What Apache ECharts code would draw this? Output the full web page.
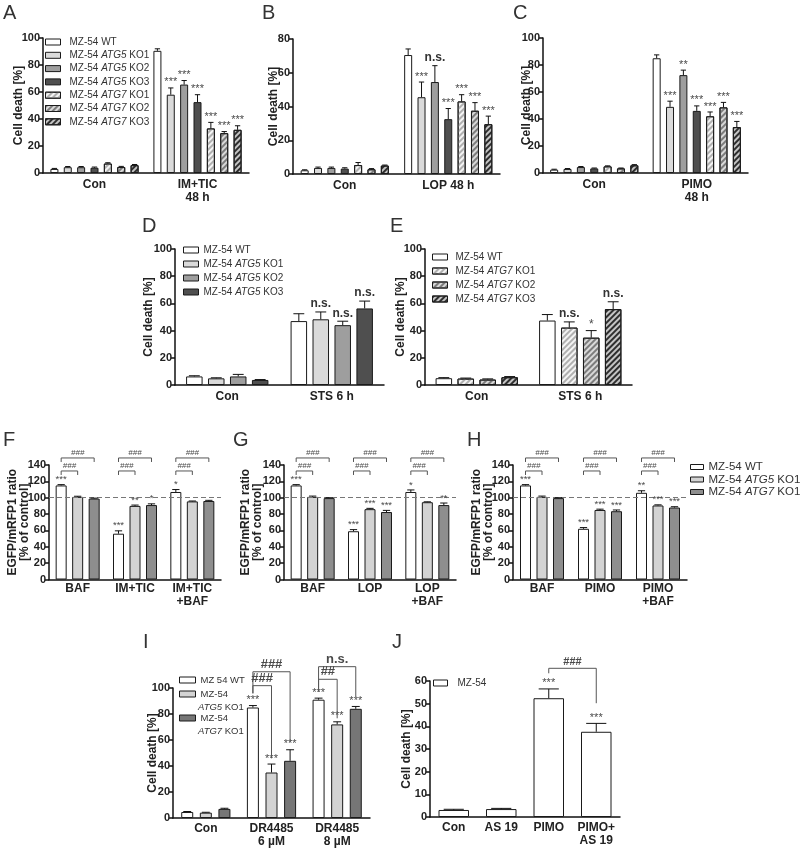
<!DOCTYPE html>
<html><head><meta charset="utf-8">
<script src="https://cdn.jsdelivr.net/npm/echarts@6/dist/echarts.min.js"></script>
<style>html,body{margin:0;padding:0;background:#fff}#c{width:800px;height:849px}</style>
</head><body><div id="c"></div>
<script>
// ================= DATA =================
const catsA = ['Con', 'IM+TIC\n48 h'];
const catsB = ['Con', 'LOP 48 h'];
const catsC = ['Con', 'PIMO\n48 h'];
const catsD = ['Con', 'STS 6 h'];
const catsE = ['Con', 'STS 6 h'];
const catsF = ['BAF', 'IM+TIC', 'IM+TIC\n+BAF'];
const catsG = ['BAF', 'LOP', 'LOP\n+BAF'];
const catsH = ['BAF', 'PIMO', 'PIMO\n+BAF'];
const catsI = ['Con', 'DR4485\n6 µM', 'DR4485\n8 µM'];
const catsJ = ['Con', 'AS 19', 'PIMO', 'PIMO+\nAS 19'];

const namesABC = ['MZ-54 WT','MZ-54 ATG5 KO1','MZ-54 ATG5 KO2','MZ-54 ATG5 KO3','MZ-54 ATG7 KO1','MZ-54 ATG7 KO2','MZ-54 ATG7 KO3'];
const namesD = ['MZ-54 WT','MZ-54 ATG5 KO1','MZ-54 ATG5 KO2','MZ-54 ATG5 KO3'];
const namesE = ['MZ-54 WT','MZ-54 ATG7 KO1','MZ-54 ATG7 KO2','MZ-54 ATG7 KO3'];
const namesFGH = ['MZ-54 WT','MZ-54 ATG5 KO1','MZ-54 ATG7 KO1'];
const namesI = ['MZ 54 WT','MZ-54 ATG5 KO1','MZ-54 ATG7 KO1'];
const namesJ = ['MZ-54'];

// values per series (one entry per category)
const valsA = [[3.0,90.5],[4.3,58],[4.3,65.5],[3.9,52.5],[7.0,33],[4.4,29.5],[5.8,32]];
const errsA = [[0.4,1.5],[0.5,5],[0.5,3],[0.5,5.5],[0.6,4.5],[0.5,1.2],[0.5,3]];
const sigA  = [['',''],['','***'],['','***'],['','***'],['','***'],['','***'],['','***']];

const valsB = [[2.2,70.5],[3.6,45.5],[3.6,54.5],[3.2,32.5],[5.3,43],[2.8,37.5],[5.0,29.5]];
const errsB = [[0.3,3.6],[0.5,9],[0.5,9.7],[0.5,6.3],[1.5,4],[0.4,4.8],[0.3,4.8]];
const sigB  = [['',''],['','***'],['','n.s.'],['','***'],['','***'],['','***'],['','***']];

const valsC = [[2.5,85],[3.0,49],[4.4,72.5],[3.4,46],[4.9,42],[3.4,48.6],[5.7,34]];
const errsC = [[0.3,2.5],[0.3,4.2],[0.4,3.7],[0.3,3.7],[0.4,3.2],[0.3,3.7],[0.5,4.2]];
const sigC  = [['',''],['','***'],['','**'],['','***'],['','***'],['','***'],['','***']];

const valsD = [[6.3,47],[4.9,48.3],[6.3,44],[3.7,56.3]];
const errsD = [[0.5,5.4],[0.4,5.4],[1.5,2.9],[0.3,5.4]];
const sigD  = [['',''],['','n.s.'],['','n.s.'],['','n.s.']];

const valsE = [[5.0,47.4],[4.7,42.2],[4.0,34.8],[5.7,55.8]];
const errsE = [[0.4,4.4],[0.4,4.2],[0.5,5.2],[0.5,5.4]];
const sigE  = [['',''],['','n.s.'],['','*'],['','n.s.']];

const valsF = [[115,56,107],[101,90,95.5],[99,91,96]];
const errsF = [[1,3.5,3],[0.8,1,0.5],[0.5,1.5,0.8]];
const sigF  = [['***','***','*'],['','**',''],['','*','']];

const valsG = [[115,59,107],[101,86,94.5],[99.5,82.5,91]];
const errsG = [[1,2,2.5],[1,1,0.5],[0.5,2,2.5]];
const sigG  = [['***','***','*'],['','***',''],['','***','**']];

const valsH = [[115,62,106],[101,85,90.5],[99.5,83.5,88]];
const errsH = [[1,1.5,2.5],[1,1,0.8],[0.5,1.5,1]];
const sigH  = [['***','***','**'],['','***','***'],['','***','***']];

const valsI = [[4.6,85,91],[4.1,35,72],[7.0,44,84]];
const errsI = [[0.4,1.5,1.2],[0.3,6.5,2],[0.5,8.5,1.8]];
const sigI  = [['','***','***'],['','***','***'],['','***','***']];

const valsJ = [[3.1,3.5,52.4,37.6]];
const errsJ = [[0.3,0.3,4.1,3.7]];
const sigJ  = [['','','***','***']];

// brackets: [catFrom, seriesFrom, catTo, seriesTo, lineValue, legFromBottom, legToBottom, label]
const bracketsF = [[0,0,0,1,132.7,127.8,127.8,'###'],[0,0,0,2,148.6,143.7,143.7,'###'],
                   [1,0,1,1,132.7,127.8,127.8,'###'],[1,0,1,2,148.6,143.7,143.7,'###'],
                   [2,0,2,1,132.7,127.8,127.8,'###'],[2,0,2,2,148.6,143.7,143.7,'###']];
const bracketsG = bracketsF;
const bracketsH = bracketsF;
const bracketsI = [[1,0,1,2,112.5,95.9,58.7,'###'],[1,0,1,1,101.8,95.9,45.9,'###'],
                   [2,0,2,2,116.4,97.2,93.3,'n.s.'],[2,0,2,1,106.7,97.2,76.7,'##']];
const bracketsJ = [[2,0,3,0,65.6,63.4,50.2,'###']];

const ticks100 = [0,20,40,60,80,100];
const ticks80 = [0,20,40,60,80];
const ticks140 = [0,20,40,60,80,100,120,140];
const ticks60 = [0,10,20,30,40,50,60];

// ================= STYLE =================
const FF = "'Liberation Sans', Arial, sans-serif";
const TXT = '#222';
const S = {
  wt:  {color:'#ffffff'},
  g5a: {color:'#dadada'},
  g5b: {color:'#9e9e9e'},
  g5c: {color:'#4f4f4f'},
  h7a: {color:'#f4f4f4', decal:'#b0b0b0'},
  h7b: {color:'#d8d8d8', decal:'#7c7c7c'},
  h7c: {color:'#c4c4c4', decal:'#2e2e2e'},
  f5:  {color:'#d3d3d3'},
  f7:  {color:'#8e8e8e'},
  i7:  {color:'#767676'}
};
function itemStyleOf(k){
  const s = S[k];
  const st = {color:s.color, borderColor:'#1a1a1a', borderWidth:1};
  if (s.decal) st.decal = {symbol:'rect', symbolSize:1, color:s.decal, dashArrayX:[1,0], dashArrayY:[1.4,1.8], rotation:-Math.PI/4};
  return st;
}

const P = [
 {id:'A', cats:catsA, names:namesABC, vals:valsA, errs:errsA, sig:sigA, sty:['wt','g5a','g5b','g5c','h7a','h7b','h7c'],
  grid:{left:43, top:38, width:206, height:135}, ticks:ticks100, yName:'Cell death [%]', nameGap:18, bw:8, gap:0.67, sigFs:11, lblMargin:5,
  legend:[{left:45, top:36, gap:1.3, pad:4, fs:10, lh:12, iw:15, ih:6}]},
 {id:'B', cats:catsB, names:namesABC, vals:valsB, errs:errsB, sig:sigB, sty:['wt','g5a','g5b','g5c','h7a','h7b','h7c'],
  grid:{left:293, top:39, width:207, height:135}, ticks:ticks80, yName:'Cell death [%]', nameGap:13, bw:8, gap:0.67, sigFs:11, lblMargin:5},
 {id:'C', cats:catsC, names:namesABC, vals:valsC, errs:errsC, sig:sigC, sty:['wt','g5a','g5b','g5c','h7a','h7b','h7c'],
  grid:{left:543, top:38, width:205, height:135}, ticks:ticks100, yName:'Cell death [%]', nameGap:10, bw:8, gap:0.67, sigFs:11, lblMargin:5},
 {id:'D', cats:catsD, names:namesD, vals:valsD, errs:errsD, sig:sigD, sty:['wt','g5a','g5b','g5c'],
  grid:{left:175, top:249, width:209, height:136}, ticks:ticks100, yName:'Cell death [%]', nameGap:20, bw:16.5, gap:0.33, sigFs:12, lblMargin:5,
  legend:[{left:183, top:244, gap:2, pad:0, fs:10, lh:12, iw:15, ih:6}]},
 {id:'E', cats:catsE, names:namesE, vals:valsE, errs:errsE, sig:sigE, sty:['wt','h7a','h7b','h7c'],
  grid:{left:425, top:249, width:207, height:136}, ticks:ticks100, yName:'Cell death [%]', nameGap:18, bw:16.5, gap:0.33, sigFs:12, lblMargin:5,
  legend:[{left:432, top:251, gap:2, pad:3, fs:10, lh:12, iw:15, ih:6}]},
 {id:'F', cats:catsF, names:namesFGH, vals:valsF, errs:errsF, sig:sigF, sty:['wt','f5','f7'], brackets:bracketsF, brFs:8, brItalic:true,
  grid:{left:49, top:465, width:172, height:114.5}, ticks:ticks140, yName:'EGFP/mRFP1 ratio\n[% of control]', nameGap:18, bw:11, gap:0.5, sigFs:9.5, dashed:true, lblMargin:3},
 {id:'G', cats:catsG, names:namesFGH, vals:valsG, errs:errsG, sig:sigG, sty:['wt','f5','f7'], brackets:bracketsG, brFs:8, brItalic:true,
  grid:{left:284, top:465, width:172, height:114.5}, ticks:ticks140, yName:'EGFP/mRFP1 ratio\n[% of control]', nameGap:20, bw:11, gap:0.5, sigFs:9.5, dashed:true, lblMargin:3},
 {id:'H', cats:catsH, names:namesFGH, vals:valsH, errs:errsH, sig:sigH, sty:['wt','f5','f7'], brackets:bracketsH, brFs:8, brItalic:true,
  grid:{left:513, top:465, width:174, height:114.5}, ticks:ticks140, yName:'EGFP/mRFP1 ratio\n[% of control]', nameGap:18, bw:11, gap:0.5, sigFs:9.5, dashed:true, lblMargin:3,
  legend:[{left:690, top:461, gap:0.5, pad:0, fs:11.5, lh:12, iw:13, ih:5}]},
 {id:'I', cats:catsI, names:namesI, vals:valsI, errs:errsI, sig:sigI, sty:['wt','f5','i7'], brackets:bracketsI, brFs:13, brBold:true,
  grid:{left:173, top:688, width:197, height:130}, ticks:ticks100, yName:'Cell death [%]', nameGap:14, bw:12, gap:0.55, sigFs:11, lblMargin:4,
  legend:[{left:179, top:674, gap:0, pad:0, fs:9.5, lh:12, iw:16, ih:6, only:[0]},
          {left:179, top:688, gap:0, pad:0, fs:9.5, lh:12, iw:16, ih:6, only:[1], first:true},
          {left:179, top:712, gap:0, pad:0, fs:9.5, lh:12, iw:16, ih:6, only:[2], first:true}]},
 {id:'J', cats:catsJ, names:namesJ, vals:valsJ, errs:errsJ, sig:sigJ, sty:['wt'], brackets:bracketsJ, brFs:11, brBold:true,
  grid:{left:430, top:681, width:190, height:136}, ticks:ticks60, yName:'Cell death [%]', nameGap:17, bw:30.5, gap:0.3, sigFs:11, lblMargin:4,
  legend:[{left:433, top:677, gap:0, pad:5, fs:10, lh:12, iw:14, ih:6}]}
];

const option = {animation:false, backgroundColor:'#fff', grid:[], xAxis:[], yAxis:[], series:[], legend:[], graphic:[]};
const axisLineStyle = {color:'#111', width:1.5};

P.forEach((p, gi) => {
  option.grid.push(Object.assign({containLabel:false}, p.grid));
  option.xAxis.push({type:'category', gridIndex:gi, data:p.cats,
    axisLine:{lineStyle:axisLineStyle}, axisTick:{alignWithLabel:true, length:4, lineStyle:axisLineStyle},
    axisLabel:{interval:0, fontWeight:'bold', fontSize:12, color:TXT, lineHeight:13, margin:p.lblMargin, fontFamily:FF}});
  option.yAxis.push({type:'value', gridIndex:gi, min:p.ticks[0], max:p.ticks[p.ticks.length-1], interval:p.ticks[1]-p.ticks[0],
    splitLine:{show:false}, axisLine:{show:true, lineStyle:axisLineStyle}, axisTick:{show:true, length:4, lineStyle:axisLineStyle},
    axisLabel:{fontWeight:'bold', fontSize:11, color:TXT, margin:3, fontFamily:FF},
    name:p.yName, nameLocation:'middle', nameGap:p.nameGap, nameMoveOverlap:false,
    nameTextStyle:{fontWeight:'bold', fontSize:12, color:TXT, lineHeight:12, fontFamily:FF}});
  const n = p.names.length, step = p.bw*(1+p.gap);
  p.names.forEach((nm, si) => {
    const s = {type:'bar', name:p.id+'|'+nm, xAxisIndex:gi, yAxisIndex:gi, data:p.vals[si], barWidth:p.bw,
      barGap:Math.round(p.gap*100)+'%', itemStyle:itemStyleOf(p.sty[si]), z:2, silent:true};
    if (p.dashed && si===0) s.markLine = {silent:true, symbol:'none', label:{show:false}, z:3,
      lineStyle:{type:[5,3], color:'#777', width:1}, data:[{yAxis:100}]};
    option.series.push(s);
  });
  // error bars + significance marks
  const items = [], sigs = [];
  p.vals.forEach((arr, si) => arr.forEach((v, ci) => { items.push([ci, v, p.errs[si][ci], si]); sigs.push(p.sig[si][ci]); }));
  option.series.push({type:'custom', xAxisIndex:gi, yAxisIndex:gi, z:5, silent:true, data:items, encode:{x:0, y:1},
    renderItem:(params, api) => {
      const ci = api.value(0), v = api.value(1), e = api.value(2), si = api.value(3);
      const b = api.coord([ci, v]), t = api.coord([ci, v+e]);
      const x = b[0] + (si-(n-1)/2)*step;
      const cw = Math.max(2.5, p.bw*0.33);
      const ch = [
        {type:'line', shape:{x1:x, y1:b[1], x2:x, y2:t[1]}, style:{stroke:'#111', lineWidth:1}},
        {type:'line', shape:{x1:x-cw, y1:t[1], x2:x+cw, y2:t[1]}, style:{stroke:'#111', lineWidth:1}}
      ];
      const s = sigs[params.dataIndex];
      if (s) {
        const ns = s==='n.s.';
        ch.push({type:'text', style:{text:s, x:x, y:t[1]-(ns?2:0), align:'center', verticalAlign:'bottom',
          fontSize: ns?12:p.sigFs, fontWeight: ns?'bold':'normal', fontFamily:FF, fill: ns?'#333':'#4a4a4a'}});
      }
      return {type:'group', children:ch};
    }});
  // brackets
  if (p.brackets) {
    option.series.push({type:'custom', xAxisIndex:gi, yAxisIndex:gi, z:5, silent:true,
      data:p.brackets.map(br => [br[0], br[4]]), encode:{x:0, y:1},
      renderItem:(params, api) => {
        const br = p.brackets[params.dataIndex];
        const c1 = api.coord([br[0], br[4]]), c2 = api.coord([br[2], br[4]]);
        const x1 = c1[0] + (br[1]-(n-1)/2)*step, x2 = c2[0] + (br[3]-(n-1)/2)*step;
        const y = c1[1];
        const yb1 = api.coord([br[0], br[5]])[1], yb2 = api.coord([br[2], br[6]])[1];
        return {type:'group', children:[
          {type:'polyline', shape:{points:[[x1,yb1],[x1,y],[x2,y],[x2,yb2]]}, style:{stroke:'#555', lineWidth:1, fill:null}},
          {type:'text', style:{text:br[7], x:(x1+x2)/2, y:y-1, align:'center', verticalAlign:'bottom',
            fontSize:p.brFs, fontStyle:p.brItalic?'italic':'normal', fontWeight:p.brBold?'bold':'normal', fontFamily:FF, fill:'#4a4a4a'}}
        ]};
      }});
  }
  // legends
  (p.legend||[]).forEach(L => {
    const idx = L.only || p.names.map((_, i) => i);
    option.legend.push({orient:'vertical', left:L.left, top:L.top, padding:0, itemGap:L.gap, itemWidth:L.iw, itemHeight:L.ih,
      icon:'rect', selectedMode:false, data:idx.map(i => p.id+'|'+p.names[i]),
      itemStyle:{borderColor:'#1a1a1a', borderWidth:1},
      formatter: name => { let t = name.split('|')[1]; if (L.first) t = t.split(' ')[0]; return t.replace(/(ATG[57])/, '{i|$1}'); },
      textStyle:{fontSize:L.fs, color:'#333', fontFamily:FF, lineHeight:L.lh, padding:[0,0,0,L.pad],
        rich:{i:{fontStyle:'italic', fontSize:L.fs, color:'#333', fontFamily:FF, lineHeight:L.lh}}}});
  });
});

// panel letters
const letters = [['A',3,3],['B',262,3],['C',513,3],['D',142,216],['E',390,216],['F',3,430],['G',233,430],['H',467,430],['I',143,632],['J',392,632]];
letters.forEach(l => option.graphic.push({type:'text', left:l[1], top:l[2], silent:true,
  style:{text:l[0], fontSize:20, fontFamily:FF, fill:'#333'}}));
// second lines of the two-line legend entries in panel I
[['{i|ATG5} KO1', 707],['{i|ATG7} KO1', 731]].forEach(t => option.graphic.push({type:'text', left:198, top:t[1]-6, silent:true,
  style:{text:t[0], fontSize:9.5, fontFamily:FF, fill:'#333', lineHeight:12, rich:{i:{fontStyle:'italic', fontSize:9.5, fontFamily:FF, fill:'#333'}}}}));

const chart = echarts.init(document.getElementById('c'), null, {renderer:'canvas', width:800, height:849});
chart.setOption(option);
</script></body></html>
